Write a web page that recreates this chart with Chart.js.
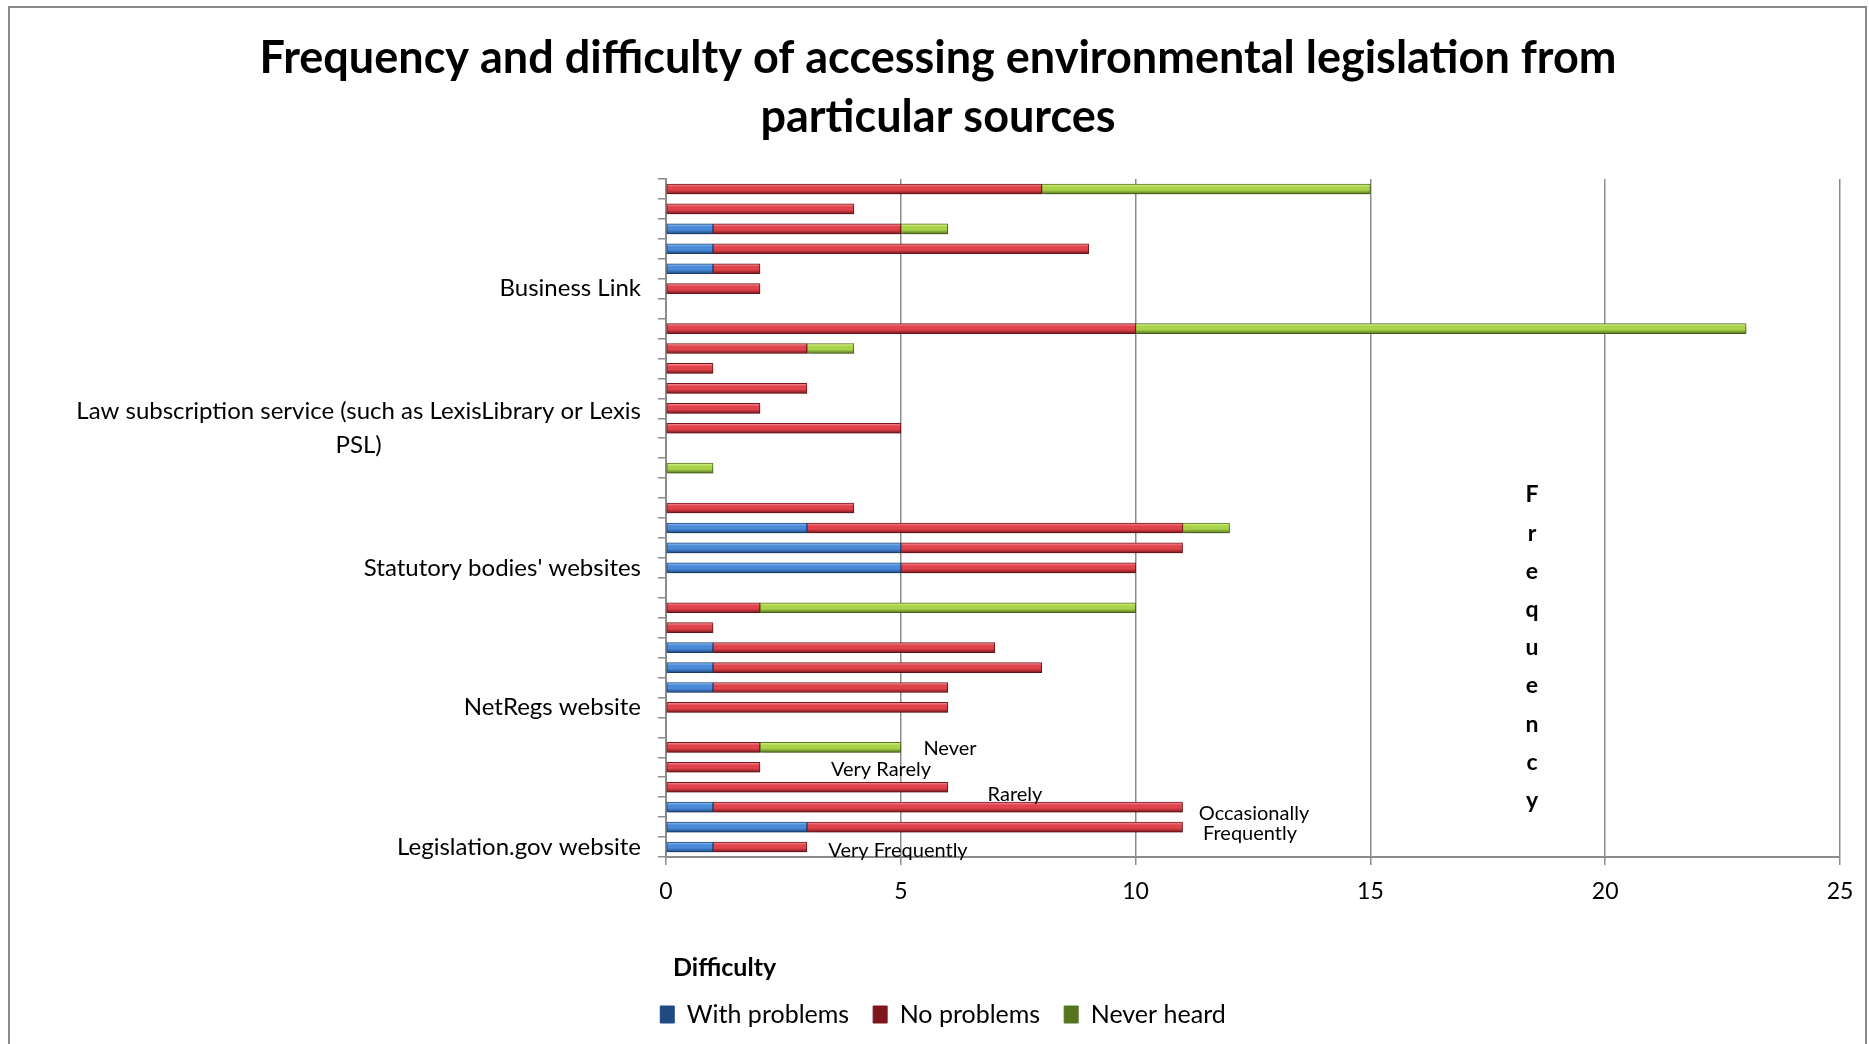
<!DOCTYPE html>
<html>
<head>
<meta charset="utf-8">
<title>Frequency and difficulty of accessing environmental legislation</title>
<script src="https://cdn.jsdelivr.net/npm/chart.js@4.4.1/dist/chart.umd.min.js"></script>
<style>
  html, body { margin: 0; padding: 0; background: #fff; }
  #wrap { width: 1869px; height: 1044px; }
</style>
</head>
<body>
<div id="wrap"><canvas id="chart" width="1869" height="1044"></canvas></div>
<script>
// Rows run bottom to top: six frequency rows per source, one empty spacer row between sources
const sources = ['Legislation.gov website', 'NetRegs website', "Statutory bodies' websites",
  ['Law subscription service (such as LexisLibrary or Lexis', 'PSL)'], 'Business Link'];
const frequencies = ['Never', 'Very Rarely', 'Rarely', 'Occasionally', 'Frequently', 'Very Frequently'];

const withProblems = [1, 3, 1, 0, 0, 0, 0,  0, 1, 1, 1, 0, 0, 0,  5, 5, 3, 0, 0, 0, 0,  0, 0, 0, 0, 0, 0, 0,  0, 1, 1, 1, 0, 0];
const noProblems   = [2, 8, 10, 6, 2, 2, 0,  6, 5, 7, 6, 1, 2, 0,  5, 6, 8, 4, 0, 0, 0,  5, 2, 3, 1, 3, 10, 0,  2, 1, 8, 4, 4, 8];
const neverHeard   = [0, 0, 0, 0, 0, 3, 0,  0, 0, 0, 0, 0, 8, 0,  0, 0, 1, 0, 0, 1, 0,  0, 0, 0, 0, 1, 13, 0,  0, 0, 0, 1, 0, 7];

const xTicks = [0, 5, 10, 15, 20, 25];

// only the first row of each source carries its name
const rowLabels = [];
sources.forEach((s, i) => {
  rowLabels.push(s, '', '', '', '', '');
  if (i < sources.length - 1) rowLabels.push('');
});

const FONT = 'Lato, Calibri, "Open Sans", sans-serif';
const GRID = '#8c8c8c';

// light / mid / dark shades for the bevelled bar look
const SHADES = {
  blue:  ['#9ac6f5', '#4a8ad8', '#1f4a82'],
  red:   ['#f89aa0', '#e0434b', '#7e171c'],
  green: ['#e4f79a', '#a9d34a', '#56751f'],
};

function barFill(sh) {
  return c => {
    const chart = c.chart;
    const y = chart.scales.y;
    if (!y || c.dataIndex === undefined) return sh[1];
    const py = y.getPixelForValue(c.dataIndex);
    if (!Number.isFinite(py)) return sh[1];
    const g = chart.ctx.createLinearGradient(0, py - 5, 0, py + 5);
    g.addColorStop(0, sh[0]);
    g.addColorStop(0.3, sh[1]);
    g.addColorStop(0.6, sh[1]);
    g.addColorStop(1, sh[2]);
    return g;
  };
}

const barShadow = {
  id: 'barShadow',
  beforeDatasetsDraw(chart) {
    const c = chart.ctx;
    c.save();
    c.shadowColor = 'rgba(0,0,0,0.25)';
    c.shadowBlur = 4;
    c.shadowOffsetX = 2;
    c.shadowOffsetY = 3;
  },
  afterDatasetsDraw(chart) { chart.ctx.restore(); }
};

const decorations = {
  id: 'decorations',
  beforeDraw(chart) {
    const c = chart.ctx;
    c.save();
    c.fillStyle = '#fff';
    c.fillRect(0, 0, chart.width, chart.height);
    c.restore();
  },
  afterDraw(chart) {
    const c = chart.ctx;
    const y = chart.scales.y;
    c.save();

    // outer frame
    c.strokeStyle = '#8a8a8a';
    c.lineWidth = 2;
    c.beginPath();
    c.moveTo(9, chart.height + 2); c.lineTo(9, 7); c.lineTo(1866, 7); c.lineTo(1866, chart.height + 2);
    c.stroke();

    c.fillStyle = '#000';
    c.textBaseline = 'middle';

    // title
    c.textAlign = 'center';
    c.font = 'bold 45px ' + FONT;
    c.fillText('Frequency and difficulty of accessing environmental legislation from', 938, 58);
    c.fillText('particular sources', 938, 117);

    // source names on the category axis, lines centred on each other
    c.font = '24px ' + FONT;
    rowLabels.forEach((lab, i) => {
      if (!lab) return;
      const lines = Array.isArray(lab) ? lab : [lab];
      const w = Math.max(...lines.map(l => c.measureText(l).width));
      const cx = 641 - w / 2;
      const py = y.getPixelForValue(i);
      lines.forEach((l, k) => c.fillText(l, cx, py + (k - (lines.length - 1) / 2) * 34));
    });

    // stacked "Frequency" title
    c.font = 'bold 23px ' + FONT;
    'Frequency'.split('').forEach((ch, k) => c.fillText(ch, 1532, 495 + k * 38.2));

    // frequency names left floating over the plot
    c.font = '20px ' + FONT;
    const notes = [[950, 749], [881, 770], [1015, 795], [1254, 814], [1250, 834], [898, 851]];
    frequencies.forEach((f, k) => c.fillText(f, notes[k][0], notes[k][1]));

    // legend heading
    c.textAlign = 'left';
    c.font = 'bold 25px ' + FONT;
    c.fillText('Difficulty', 673, 968);

    c.restore();
  }
};

const dataset = (label, data, sh) => ({
  label,
  data: data.map(v => v || null),
  backgroundColor: barFill(sh),
  borderColor: sh[2],
  borderWidth: 1,
  borderSkipped: false,
  barThickness: 10,
});

new Chart(document.getElementById('chart'), {
  type: 'bar',
  data: {
    labels: rowLabels,
    datasets: [
      dataset('With problems', withProblems, SHADES.blue),
      dataset('No problems', noProblems, SHADES.red),
      dataset('Never heard', neverHeard, SHADES.green),
    ]
  },
  options: {
    indexAxis: 'y',
    responsive: false,
    animation: false,
    layout: { padding: { top: 179, right: 29, bottom: 7, left: 46 } },
    scales: {
      x: {
        stacked: true, min: 0, max: 25,
        afterBuildTicks: s => { s.ticks = xTicks.map(v => ({ value: v })); },
        ticks: { color: '#000', font: { family: FONT, size: 23 }, padding: 13 },
        grid: { color: GRID, lineWidth: 1.5, tickLength: 8 },
        border: { display: true, color: GRID, width: 2 },
        afterFit: s => { s.height = 121; }
      },
      y: {
        stacked: true, reverse: true,
        ticks: { autoSkip: false, callback: () => '' },
        grid: { offset: true, drawOnChartArea: false, drawTicks: true, tickLength: 8, color: GRID, lineWidth: 1.5 },
        border: { display: true, color: GRID, width: 2 },
        afterFit: s => { s.width = 620; }
      }
    },
    plugins: {
      legend: {
        position: 'bottom',
        labels: {
          color: '#000', font: { family: FONT, size: 25 },
          boxWidth: 14, boxHeight: 17, padding: 24
        }
      },
      tooltip: { enabled: false }
    }
  },
  plugins: [barShadow, decorations]
});
</script>
</body>
</html>
